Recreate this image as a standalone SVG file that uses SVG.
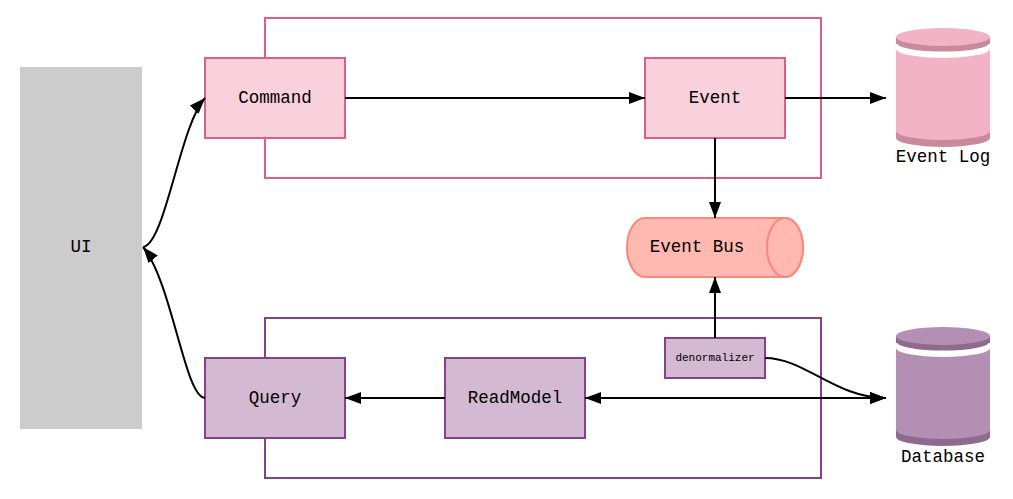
<svg xmlns="http://www.w3.org/2000/svg" width="1013" height="499" viewBox="0 0 1013 499">
<style>
text{font-family:"Liberation Mono","DejaVu Sans Mono",monospace;font-size:17.5px;fill:#000;text-anchor:middle;dominant-baseline:central}
.cmd{fill:#f8d1dc;stroke:#dc5f88;stroke-width:2}
.qry{fill:#d3b9d1;stroke:#85418a;stroke-width:2}
.cont-c{fill:none;stroke:#dc5f88;stroke-width:2}
.cont-q{fill:none;stroke:#85418a;stroke-width:2}
.edge{fill:none;stroke:#000;stroke-width:2}
</style>
<defs>
<marker id="arr" viewBox="0 0 16 12" refX="16" refY="6" markerWidth="16" markerHeight="12" markerUnits="userSpaceOnUse" orient="auto">
<path d="M0,0 L16,6 L0,12 Z" fill="#000"/>
</marker>
</defs>
<rect width="1013" height="499" fill="#fff"/>
<g id="containers">
<rect class="cont-c" x="265" y="18" width="556" height="160"/>
<rect class="cont-q" x="265" y="318" width="556" height="160"/>
</g>
<g id="ui"><rect x="20" y="67" width="122" height="362" fill="#cccccc"/><text x="81" y="247">UI</text></g>
<g id="command"><rect class="cmd" x="205" y="58" width="140" height="80"/><text x="275" y="98">Command</text></g>
<g id="event"><rect class="cmd" x="645" y="58" width="140" height="80"/><text x="715" y="98">Event</text></g>
<g id="query"><rect class="qry" x="205" y="358" width="140" height="80"/><text x="275" y="398">Query</text></g>
<g id="readmodel"><rect class="qry" x="445" y="358" width="140" height="80"/><text x="515" y="398">ReadModel</text></g>
<g id="denormalizer"><rect class="qry" x="665" y="338" width="100" height="40"/><text x="715" y="358" style="font-size:11px">denormalizer</text></g>
<g id="eventbus">
<path d="M645,218 L785,218 A18,29.5 0 0 1 785,277 L645,277 A18,29.5 0 0 1 645,218 Z" fill="#ffb9b0" stroke="#f8897c" stroke-width="2"/>
<ellipse cx="785" cy="247.5" rx="18" ry="29.5" fill="#ffb9b0" stroke="#f8897c" stroke-width="2"/>
<text x="697" y="247">Event Bus</text>
</g>
<g id="eventlog">
<path d="M896,49 A47,9 0 0 0 990,49 L990,133 A47,9 0 0 1 896,133 Z" fill="#f2b3c7"/>
<path d="M896,131 A47,9 0 0 0 990,131 L990,138 A47,9 0 0 1 896,138 Z" fill="#c98a9e"/>
<path d="M896,37 L990,37 L990,44 A47,9 0 0 1 896,44 Z" fill="#c98a9e"/>
<path d="M896,44 A47,9 0 0 0 990,44" fill="none" stroke="#fff" stroke-width="3"/>
<ellipse cx="943" cy="37" rx="47" ry="9" fill="#f2b3c7"/>
<text x="943" y="157">Event Log</text>
</g>
<g id="database">
<path d="M896,348 A47,9 0 0 0 990,348 L990,432 A47,9 0 0 1 896,432 Z" fill="#b28fb3"/>
<path d="M896,430 A47,9 0 0 0 990,430 L990,437 A47,9 0 0 1 896,437 Z" fill="#8f6a8f"/>
<path d="M896,336 L990,336 L990,343 A47,9 0 0 1 896,343 Z" fill="#8f6a8f"/>
<path d="M896,343 A47,9 0 0 0 990,343" fill="none" stroke="#fff" stroke-width="3"/>
<ellipse cx="943" cy="336" rx="47" ry="9" fill="#b28fb3"/>
<text x="943" y="457">Database</text>
</g>
<g id="connectors">
<path class="edge" d="M345,98 L645,98" marker-end="url(#arr)"/>
<path class="edge" d="M785,98 L886,98" marker-end="url(#arr)"/>
<path class="edge" d="M715,138 L715,218" marker-end="url(#arr)"/>
<path class="edge" d="M715,338 L715,277" marker-end="url(#arr)"/>
<path class="edge" d="M886,398 L585,398" marker-end="url(#arr)"/>
<path class="edge" d="M600,398 L886,398" marker-end="url(#arr)"/>
<path class="edge" d="M445,398 L345,398" marker-end="url(#arr)"/>
<path class="edge" d="M765,358 C805,358 835,398 886,398" marker-end="url(#arr)"/>
<path class="edge" d="M143,247 C165,245 180,125 205,98" marker-end="url(#arr)"/>
<path class="edge" d="M205,398 C185,398 172,282 143,247" marker-end="url(#arr)"/>
</g>
</svg>
